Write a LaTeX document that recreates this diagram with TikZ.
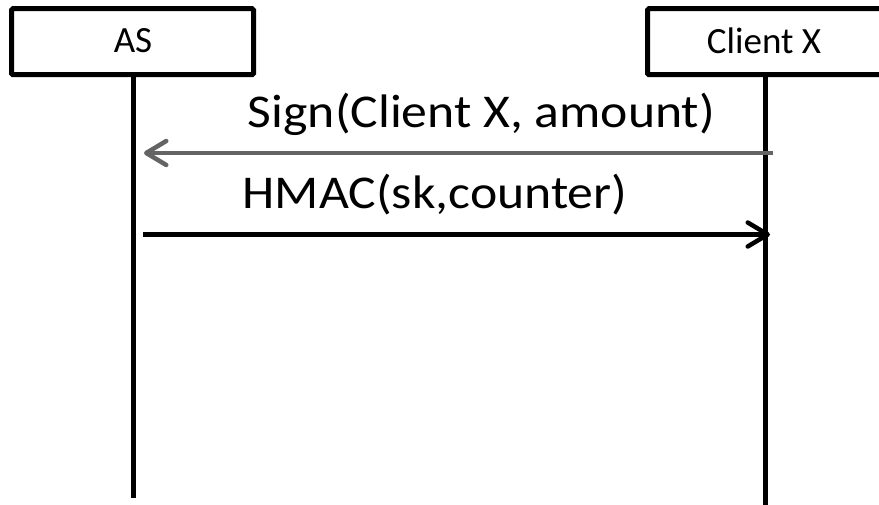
\documentclass[tikz,border=0pt]{standalone}
\usepackage{fontspec}
\setmainfont{Carlito}
\usetikzlibrary{arrows.meta}
\definecolor{msggray}{RGB}{100,100,100}
\newcommand{\widetext}[1]{\scalebox{1.1}[1]{#1}}
\begin{document}
\begin{tikzpicture}[x=1pt,y=-1pt,
  actor/.style={draw,line width=5pt,rounded corners=1.5pt,minimum height=66pt,inner sep=0pt},
  actorlbl/.style={font=\fontsize{37}{42}\selectfont,inner sep=0pt},
  life/.style={line width=5pt},
  msg/.style={line width=4.5pt,-{Straight Barb[length=20pt,width=24pt,line width=4.5pt,round]}},
  lbl/.style={font=\fontsize{47}{54}\selectfont,inner sep=0pt}]
\useasboundingbox (0,0) rectangle (879,505);
\clip (0,0) rectangle (879,505);
\node[actor,minimum width=242pt] (as) at (132.5,41.75) {};
\node[actor,minimum width=245pt,anchor=west] (cx) at (645,41.75) {};
\node[actorlbl] (asl) at (133,41) {AS};
\node[actorlbl] (cxl) at (764,41) {Client X};
\coordinate (ast) at (133,75);
\coordinate (cxt) at (765.5,75);
\coordinate (asb) at (133,498);
\coordinate (cxb) at (765.5,505);
\draw[life] (ast) -- (asb);
\draw[life] (cxt) -- (cxb);
\coordinate (a1s) at (773,153);
\coordinate (a1e) at (144,153);
\coordinate (a2s) at (143,234.5);
\coordinate (a2e) at (770,234.5);
\draw[msg,msggray] (a1s) -- (a1e);
\draw[msg] (a2s) -- (a2e);
\node[lbl,anchor=base] (l1) at (481.5,128) {\widetext{Sign(Client X, amount)}};
\node[lbl,anchor=base] (l2) at (435,209) {\widetext{HMAC(sk,counter)}};
\end{tikzpicture}
\end{document}
